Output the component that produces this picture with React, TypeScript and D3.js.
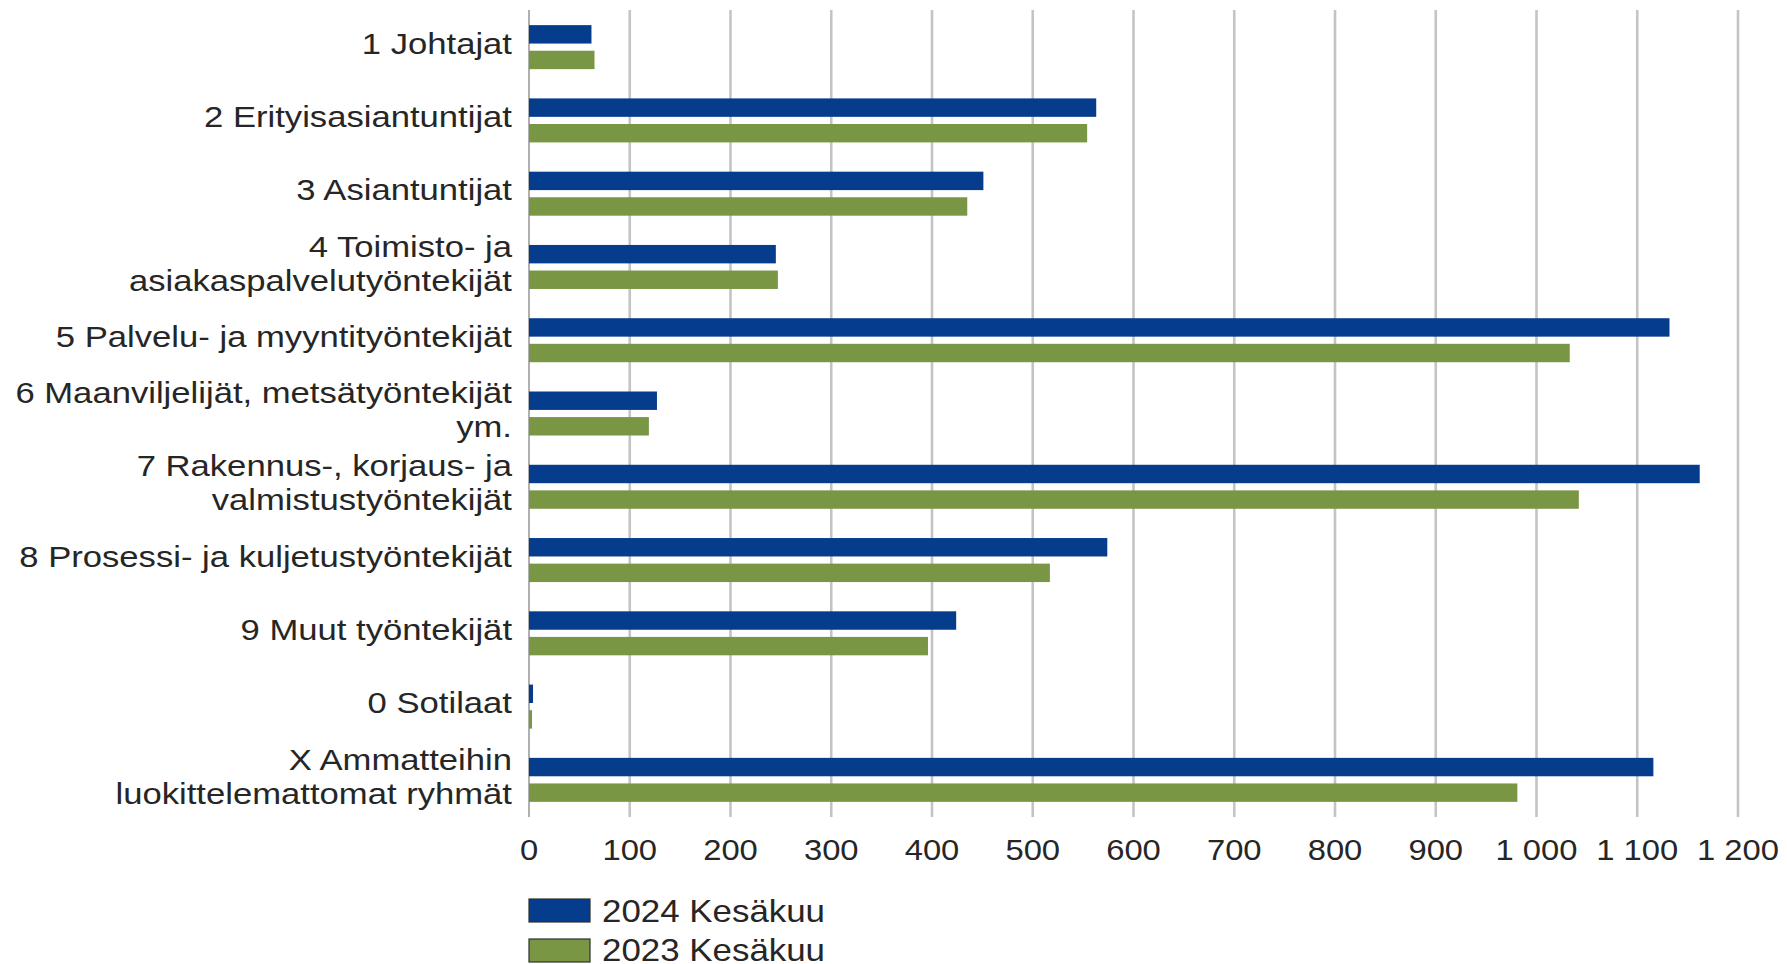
import React from "react";
import * as d3 from "d3";

const categories: string[][] = [
  ["1 Johtajat"],
  ["2 Erityisasiantuntijat"],
  ["3 Asiantuntijat"],
  ["4 Toimisto- ja", "asiakaspalvelutyöntekijät"],
  ["5 Palvelu- ja myyntityöntekijät"],
  ["6 Maanviljelijät, metsätyöntekijät", "ym."],
  ["7 Rakennus-, korjaus- ja", "valmistustyöntekijät"],
  ["8 Prosessi- ja kuljetustyöntekijät"],
  ["9 Muut työntekijät"],
  ["0 Sotilaat"],
  ["X Ammatteihin", "luokittelemattomat ryhmät"],
];

const seriesNames = ["2024 Kesäkuu", "2023 Kesäkuu"];
const values2024 = [62, 563, 451, 245, 1132, 127, 1162, 574, 424, 4, 1116];
const values2023 = [65, 554, 435, 247, 1033, 119, 1042, 517, 396, 3, 981];
const tickValues = [0, 100, 200, 300, 400, 500, 600, 700, 800, 900, 1000, 1100, 1200];

const colors = ["#053c8b", "#789643"];

const W = 1787;
const H = 964;
const FONT = "'Liberation Sans', Arial, Helvetica, sans-serif";

const fiLocale = d3.formatLocale({
  decimal: ",",
  thousands: " ",
  grouping: [3],
  currency: ["", " €"],
});
const fmt = fiLocale.format(",d");

function SText(props: {
  x: number;
  y: number;
  sx: number;
  size: number;
  anchor: string;
  children: React.ReactNode;
}) {
  const { x, y, sx, size, anchor, children } = props;
  return (
    <text
      transform={`translate(${x},${y}) scale(${sx},1)`}
      textAnchor={anchor as any}
      dominantBaseline="central"
      fontFamily={FONT}
      fontSize={size}
      fill="#262626"
    >
      {children}
    </text>
  );
}

export default function App() {
  const keys = categories.map((c) => c.join(" "));
  const x = d3.scaleLinear().domain([0, 1200]).range([529, 1738]);
  const y = d3.scaleBand<string>().domain(keys).range([10, 816]).paddingInner(0);
  const sub = d3
    .scaleBand<string>()
    .domain(seriesNames)
    .range([-21.5, 22.5])
    .paddingInner(0.28);
  const data = [values2024, values2023];

  const gridTop = 10;
  const gridBottom = 817;

  return (
    <svg
      width={W}
      height={H}
      style={{ position: "absolute", left: 0, top: 0, background: "#fff" }}
    >
      <rect x={0} y={0} width={W} height={H} fill="#fff" />
      {/* gridlines */}
      {tickValues.map((t) => (
        <line
          key={"g" + t}
          x1={x(t)}
          x2={x(t)}
          y1={gridTop}
          y2={gridBottom}
          stroke={t === 0 ? "#b0b0b0" : "#c4c4c4"}
          strokeWidth={t === 0 ? 2 : 2.6}
        />
      ))}
      {/* bars */}
      {keys.map((k, i) => {
        const c = (y(k) as number) + y.bandwidth() / 2;
        return seriesNames.map((s, j) => (
          <rect
            key={k + s}
            x={x(0)}
            y={c + (sub(s) as number)}
            width={Math.max(0, x(data[j][i]) - x(0))}
            height={sub.bandwidth()}
            fill={colors[j]}
          />
        ));
      })}
      {/* category labels */}
      {categories.map((lines, i) => {
        const c = (y(keys[i]) as number) + y.bandwidth() / 2 - 3;
        const lh = 34;
        const start = c - ((lines.length - 1) * lh) / 2;
        return lines.map((ln, li) => (
          <SText
            key={keys[i] + li}
            x={512}
            y={start + li * lh}
            sx={1.155}
            size={30}
            anchor="end"
          >
            {ln}
          </SText>
        ));
      })}
      {/* tick labels */}
      {tickValues.map((t) => (
        <SText key={"t" + t} x={x(t)} y={850} sx={1.13} size={29} anchor="middle">
          {fmt(t)}
        </SText>
      ))}
      {/* legend */}
      {seriesNames.map((s, j) => (
        <g key={"l" + s}>
          <rect
            x={529}
            y={899 + j * 40}
            width={61}
            height={23}
            fill={colors[j]}
            stroke="#2f2f2f"
            strokeWidth={1.2}
          />
          <SText x={602} y={911 + j * 39} sx={1.09} size={32} anchor="start">
            {s}
          </SText>
        </g>
      ))}
    </svg>
  );
}
